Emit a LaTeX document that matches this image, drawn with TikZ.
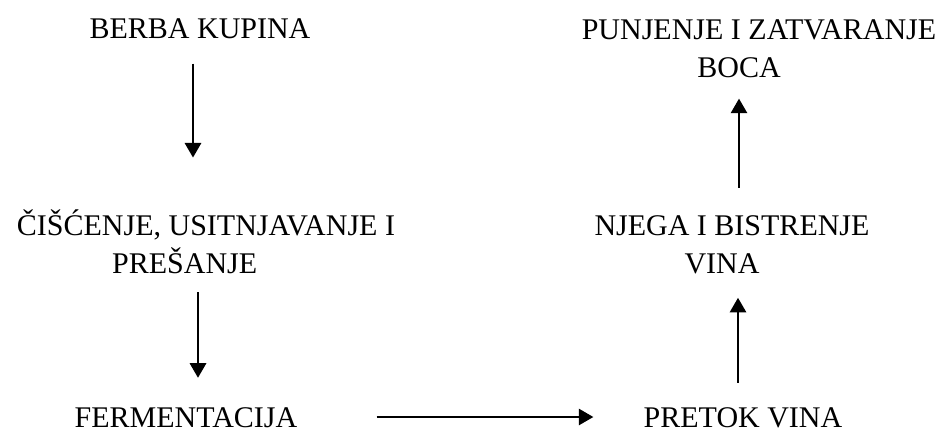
\documentclass[tikz,border=0pt]{standalone}
\usepackage{fontspec}
\setmainfont{Liberation Serif}
\usetikzlibrary{arrows.meta}
\begin{document}
\begin{tikzpicture}[x=0.75pt,y=-0.75pt,
  lbl/.style={font=\fontsize{22.5}{28}\selectfont, inner sep=0pt, align=center},
  arr/.style={line width=2.2pt, -{Triangle[length=11pt,width=12pt]}}]
\useasboundingbox (0,0) rectangle (949,432);
\node[lbl, anchor=base] (berba) at (200,38) {BERBA KUPINA};
\node[lbl, anchor=base] (cis) at (206,273) {ČIŠĆENJE, USITNJAVANJE I\\PREŠANJE\hspace*{32pt}};
\node[lbl, anchor=base] (ferm) at (186,427) {FERMENTACIJA};
\node[lbl, anchor=base] (pretok) at (743,427) {PRETOK VINA};
\node[lbl, anchor=base] (njega) at (732,273) {NJEGA I BISTRENJE\\VINA\hspace*{15pt}};
\node[lbl, anchor=base] (punj) at (759,77) {PUNJENJE I ZATVARANJE\\BOCA\hspace*{30pt}};
\draw[arr, shorten <=18.75pt, shorten >=39pt] (berba.south -| 193,0) -- (cis.north -| 193,0);
\draw[arr, shorten <=14pt, shorten >=21.75pt] (cis.south -| 198,0) -- (ferm.north -| 198,0);
\draw[arr, shorten <=59.25pt, shorten >=37.5pt] (ferm.east |- 0,417) -- (pretok.west |- 0,417);
\draw[arr, shorten <=18pt, shorten >=18pt] (pretok.north -| 738,0) -- (njega.south -| 738,0);
\draw[arr, shorten <=21pt, shorten >=15.75pt] (njega.north -| 739,0) -- (punj.south -| 739,0);
\end{tikzpicture}
\end{document}
